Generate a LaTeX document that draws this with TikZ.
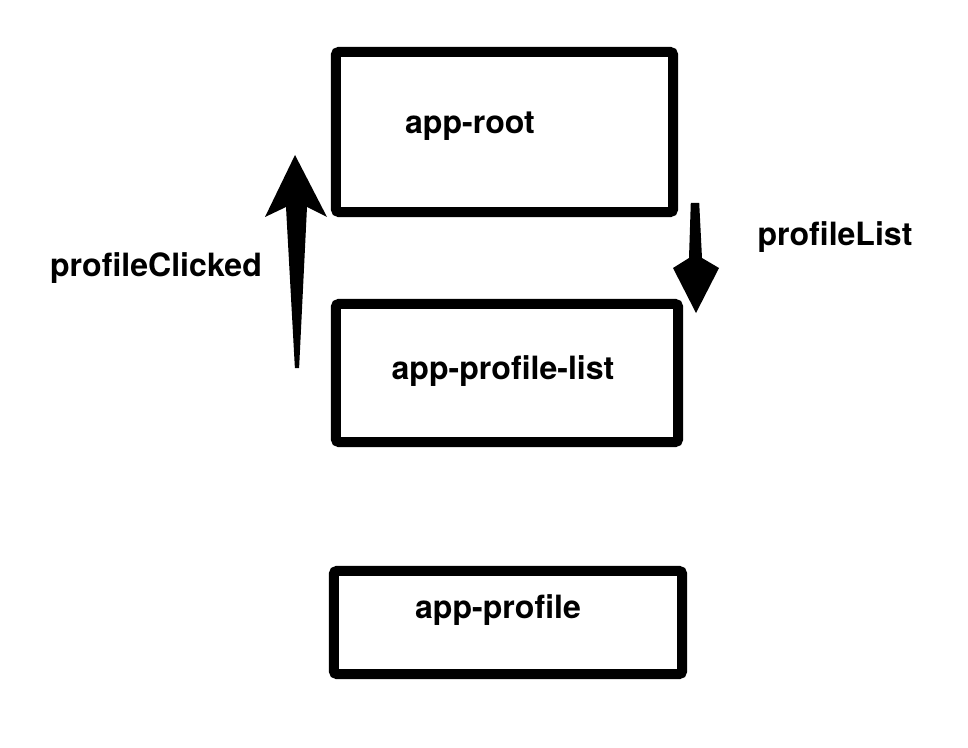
\documentclass[tikz,border=0pt]{standalone}
\usepackage{fontspec}
\setmainfont{TeX Gyre Heros}
\usepackage{tikz}

\begin{document}
\begin{tikzpicture}[x=0.025cm, y=-0.025cm,
  comp/.style={draw, line width=0.25cm, rounded corners=2pt, inner sep=0pt},
  lbl/.style={font=\fontsize{22.8}{26}\selectfont\bfseries, anchor=base, inner sep=0pt},
  fatarrow/.style={fill=black}]
\useasboundingbox (0,0) rectangle (968,748);
% component boxes
\node[comp, minimum width=8.425cm, minimum height=4cm](root) at (504.5,132) {};
\node[comp, minimum width=8.55cm, minimum height=3.45cm](plist) at (507,373) {};
\node[comp, minimum width=8.7cm, minimum height=2.575cm](profile) at (508,622.5) {};
%
\node[lbl](rootname) at (470,134) {app-root};
\node[lbl](plistname) at (503,379) {app-profile-list};
\node[lbl](profilename) at (498,618) {app-profile};
%
% event going up, input going down
\coordinate(uptail) at (297,368);
\coordinate(uptip) at (295,155);
\coordinate(downtail) at (695,203);
\coordinate(downtip) at (696,313);
\fill[fatarrow] (uptip) -- (327,217) -- (307,207) -- ([xshift=1.5]uptail) -- ([xshift=-1.5]uptail) -- (286,207) -- (265,217) -- cycle;
\fill[fatarrow] (downtip) -- (719,268) -- (702,258) -- ([xshift=3]downtail) -- ([xshift=-3]downtail) -- (689,258) -- (673,268) -- cycle;
%
\node[lbl](clicked) at (156,277) {profileClicked};
\node[lbl](listin) at (835,246) {profileList};
\end{tikzpicture}
\end{document}
